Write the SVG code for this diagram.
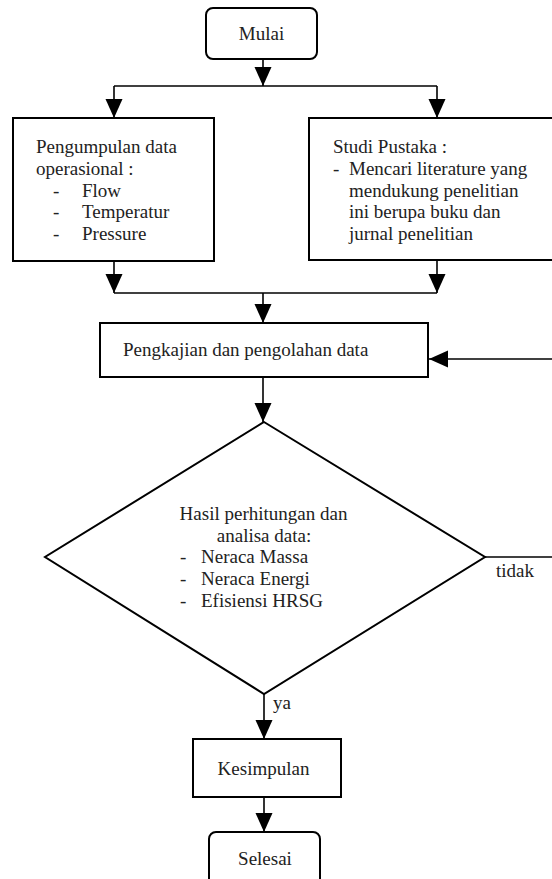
<svg xmlns="http://www.w3.org/2000/svg" width="552" height="879" viewBox="0 0 552 879">
<style>
.box{fill:#fff;stroke:#000;stroke-width:2}
.ln{fill:none;stroke:#000;stroke-width:1.6}
text{font-family:"Liberation Serif","Times New Roman",serif;font-size:19px;fill:#222}
.c{text-anchor:middle}
</style>
<defs>
<marker id="ah" markerUnits="userSpaceOnUse" markerWidth="20" markerHeight="18" refX="19" refY="8.5" orient="auto">
<path d="M0,0 L19,8.5 L0,17 z" fill="#000"/>
</marker>
</defs>
<rect width="552" height="879" fill="#fff"/>
<g id="connectors">
<path class="ln" d="M263,59 V86" marker-end="url(#ah)"/>
<path class="ln" d="M114,86 H437"/>
<path class="ln" d="M114,86 V118" marker-end="url(#ah)"/>
<path class="ln" d="M437,86 V118" marker-end="url(#ah)"/>
<path class="ln" d="M114,261 V293" marker-end="url(#ah)"/>
<path class="ln" d="M437,260 V293" marker-end="url(#ah)"/>
<path class="ln" d="M114,293 H437"/>
<path class="ln" d="M263,293 V323" marker-end="url(#ah)"/>
<path class="ln" d="M263,377 V422" marker-end="url(#ah)"/>
<path class="ln" d="M553,359 H429" marker-end="url(#ah)"/>
<path class="ln" d="M485,557 H553"/>
<path class="ln" d="M264,694 V739" marker-end="url(#ah)"/>
<path class="ln" d="M264,797 V832" marker-end="url(#ah)"/>
<text x="496" y="577">tidak</text>
<text x="273" y="709">ya</text>
</g>
<g id="mulai">
<rect class="box" x="206" y="8" width="111" height="51" rx="7"/>
<text class="c" x="261.5" y="40">Mulai</text>
</g>
<g id="pengumpulan">
<rect class="box" x="13" y="118" width="201" height="143"/>
<text x="36" y="153">Pengumpulan data</text>
<text x="36" y="175">operasional :</text>
<text x="53" y="197">-</text><text x="82" y="197">Flow</text>
<text x="53" y="218">-</text><text x="82" y="218">Temperatur</text>
<text x="53" y="240">-</text><text x="82" y="240">Pressure</text>
</g>
<g id="studi">
<rect class="box" x="309" y="118" width="250" height="142"/>
<text x="333" y="153">Studi Pustaka :</text>
<text x="333" y="175">-</text><text x="349" y="175">Mencari literature yang</text>
<text x="349" y="197">mendukung penelitian</text>
<text x="349" y="218">ini berupa buku dan</text>
<text x="349" y="240">jurnal penelitian</text>
</g>
<g id="pengkajian">
<rect class="box" x="100" y="323" width="328" height="54"/>
<text x="123" y="356">Pengkajian dan pengolahan data</text>
</g>
<g id="keputusan">
<path class="box" d="M264,422 L485,557 L264,694 L45,557 Z"/>
<text class="c" x="263.5" y="520">Hasil perhitungan dan</text>
<text class="c" x="264" y="542">analisa data:</text>
<text x="180" y="563">-</text><text x="201" y="563">Neraca Massa</text>
<text x="180" y="585">-</text><text x="201" y="585">Neraca Energi</text>
<text x="180" y="607">-</text><text x="201" y="607">Efisiensi HRSG</text>
</g>
<g id="kesimpulan">
<rect class="box" x="193" y="739" width="148" height="58"/>
<text class="c" x="263.5" y="775">Kesimpulan</text>
</g>
<g id="selesai">
<rect class="box" x="209" y="832" width="111" height="55" rx="7"/>
<text class="c" x="265" y="865">Selesai</text>
</g>
</svg>
